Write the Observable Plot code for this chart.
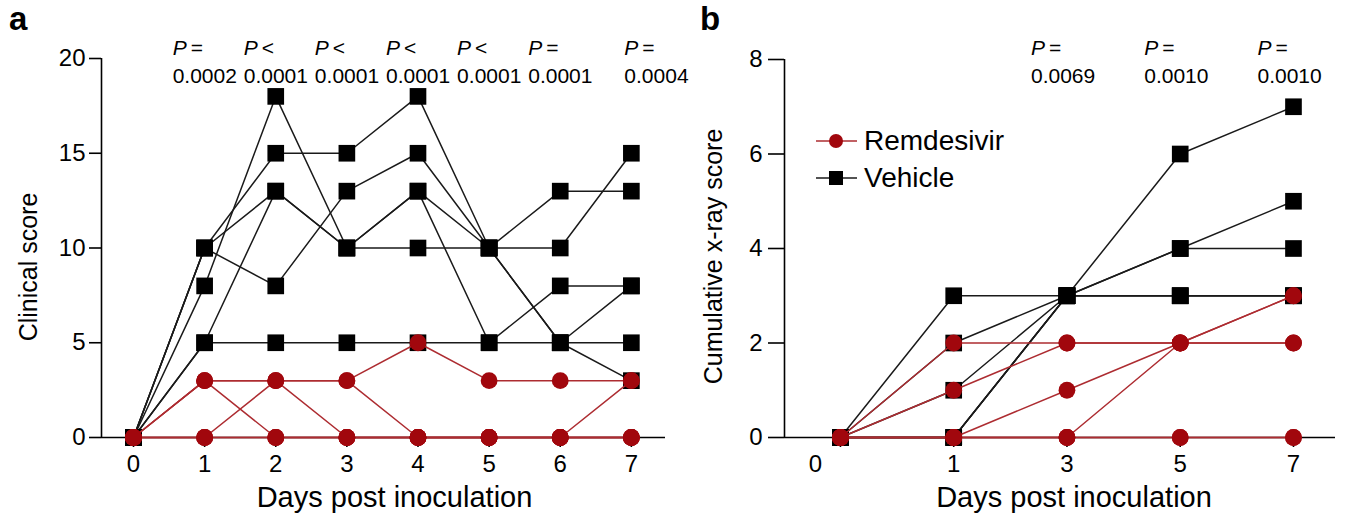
<!DOCTYPE html>
<html><head><meta charset="utf-8">
<script src="https://cdn.jsdelivr.net/npm/d3@7"></script>
<script src="https://cdn.jsdelivr.net/npm/@observablehq/plot@0.6"></script>
<style>
body{margin:0;background:#fff;font-family:"Liberation Sans",Arial,Helvetica,sans-serif;color:#000;}
#wrap{position:relative;width:1349px;height:529px;overflow:hidden;background:#fff;}
.panel{position:absolute;top:0;}
.tag{position:absolute;font-weight:bold;font-size:33px;line-height:1;}
.legend{position:absolute;left:815px;top:122px;font-size:28px;}
.legend .row{display:flex;align-items:center;height:37px;}
.legend svg{margin-right:6px;}
</style></head><body><div id="wrap"></div>
<script>
// ---------- Panel a: clinical score ----------
const daysA = [0, 1, 2, 3, 4, 5, 6, 7];
const vehicleA = [
  [0, 10, 15, 15, 18, 10, 13, 13],
  [0, 10, 8, 13, 15, 10, 10, 15],
  [0, 10, 13, 10, 13, 10, 5, 8],
  [0, 8, 18, 10, 13, 5, 8, 8],
  [0, 5, 13, 10, 10, 10, 5, 3],
  [0, 5, 5, 5, 5, 5, 5, 5]
];
const remdesivirA = [
  [0, 3, 3, 3, 5, 3, 3, 3],
  [0, 3, 3, 3, 0, 0, 0, 0],
  [0, 3, 0, 0, 0, 0, 0, 0],
  [0, 0, 3, 0, 0, 0, 0, 3],
  [0, 0, 0, 0, 0, 0, 0, 0],
  [0, 0, 0, 0, 0, 0, 0, 0]
];
const pDaysA = [1, 2, 3, 4, 5, 6, 7];
const pSignsA = ["=", "<", "<", "<", "<", "=", "="];
const pValuesA = ["0.0002", "0.0001", "0.0001", "0.0001", "0.0001", "0.0001", "0.0004"];
const yTicksA = [0, 5, 10, 15, 20];

// ---------- Panel b: cumulative x-ray score ----------
const daysB = [0, 1, 3, 5, 7];
const vehicleB = [
  [0, 3, 3, 3, 3],
  [0, 2, 3, 4, 5],
  [0, 1, 3, 4, 4],
  [0, 0, 3, 6, 7],
  [0, 0, 3, 3, 3],
  [0, 0, 3, 3, 3]
];
const remdesivirB = [
  [0, 2, 2, 2, 2],
  [0, 1, 2, 2, 3],
  [0, 0, 1, 2, 2],
  [0, 0, 0, 2, 3],
  [0, 0, 0, 0, 0],
  [0, 0, 0, 0, 0]
];
const pDaysB = [3, 5, 7];
const pSignsB = ["=", "=", "="];
const pValuesB = ["0.0069", "0.0010", "0.0010"];
const yTicksB = [0, 2, 4, 6, 8];
const groups = ["Remdesivir", "Vehicle"];

const RED = "#a1070d";
const REDLINE = "#ad2c31";
const BLACK = "#000";
const FONT = '"Liberation Sans", Arial, Helvetica, sans-serif';
const PFS = 21;

function tidy(arr, days, group, xOf) {
  return arr.flatMap((s, k) => s.map((v, i) => ({group, id: group + k, day: days[i], x: xOf(days[i], i), value: v})));
}

function pMarks(rows, dx, dyTop, dyBot) {
  return [
    Plot.text(rows, {x: "xp", text: () => "P", frameAnchor: "top", textAnchor: "start", fontStyle: "italic", dx, dy: dyTop, fontSize: PFS}),
    Plot.text(rows, {x: "xp", text: "sign", frameAnchor: "top", textAnchor: "start", dx: dx + 18, dy: dyTop, fontSize: PFS}),
    Plot.text(rows, {x: "xp", text: "val", frameAnchor: "top", textAnchor: "start", dx, dy: dyBot, fontSize: PFS})
  ];
}

const wrap = document.getElementById("wrap");

// ---- Panel a ----
const vA = tidy(vehicleA, daysA, "Vehicle", d => d);
const rA = tidy(remdesivirA, daysA, "Remdesivir", d => d);
const xDomA = [-0.45, 7.48];
const rowsA = pDaysA.map((d, i) => ({xp: d, sign: pSignsA[i], val: pValuesA[i]}));
const plotA = Plot.plot({
  width: 690, height: 529,
  marginLeft: 101, marginRight: 25, marginTop: 58, marginBottom: 92,
  style: {fontFamily: FONT, fontSize: "24px", color: "#000", background: "transparent", overflow: "visible"},
  x: {domain: xDomA},
  y: {domain: [0, 20]},
  marks: [
    Plot.ruleY([0], {stroke: BLACK, strokeWidth: 1.6}),
    Plot.ruleX([xDomA[0]], {y1: 0, y2: 20, stroke: BLACK, strokeWidth: 1.6}),
    Plot.axisX({ticks: daysA, tickSize: 10, tickPadding: 7, tickFormat: d => String(d), label: null, strokeWidth: 1.6}),
    Plot.axisY({ticks: yTicksA, tickSize: 12, tickPadding: 4, label: null, strokeWidth: 1.6}),
    Plot.line(vA, {x: "x", y: "value", z: "id", stroke: "#1a1a1a", strokeWidth: 1.5}),
    Plot.dot(vA, {x: "x", y: "value", symbol: "square", r: 9.4, fill: BLACK, stroke: "none"}),
    Plot.line(rA, {x: "x", y: "value", z: "id", stroke: REDLINE, strokeWidth: 1.5}),
    Plot.dot(rA, {x: "x", y: "value", symbol: "circle", r: 8.4, fill: RED, stroke: "none"}),
    Plot.text(["Days post inoculation"], {frameAnchor: "bottom", textAnchor: "middle", dx: 11, dy: 69, fontSize: 29}),
    Plot.text(["Clinical score"], {frameAnchor: "left", textAnchor: "middle", rotate: -90, dx: -73, dy: 19, fontSize: 25}),
    ...pMarks(rowsA.filter(r => r.xp < 7), -32, -18, 10),
    ...pMarks(rowsA.filter(r => r.xp === 7), -7, -18, 10)
  ]
});
plotA.classList.add("panel");
plotA.style.left = "0px";
wrap.appendChild(plotA);

// ---- Panel b ---- (days placed at evenly spaced positions)
const idxB = d => daysB.indexOf(d);
const vB = tidy(vehicleB, daysB, "Vehicle", (d, i) => i);
const rB = tidy(remdesivirB, daysB, "Remdesivir", (d, i) => i);
const xDomB = [-0.494, 4.371];
const rowsB = pDaysB.map((d, i) => ({xp: idxB(d), sign: pSignsB[i], val: pValuesB[i]}));
const plotB = Plot.plot({
  width: 659, height: 529,
  marginLeft: 94, marginRight: 14, marginTop: 59, marginBottom: 92,
  style: {fontFamily: FONT, fontSize: "24px", color: "#000", background: "transparent", overflow: "visible"},
  x: {domain: xDomB},
  y: {domain: [0, 8]},
  marks: [
    Plot.ruleY([0], {stroke: BLACK, strokeWidth: 1.6}),
    Plot.ruleX([xDomB[0]], {y1: 0, y2: 8, stroke: BLACK, strokeWidth: 1.6}),
    Plot.axisX({ticks: daysB.map((d, i) => i), tickSize: 10, tickPadding: 7, tickFormat: i => (i === 0 ? "" : String(daysB[i])), label: null, strokeWidth: 1.6}),
    Plot.text([0], {x: d => d, text: () => String(daysB[0]), frameAnchor: "bottom", lineAnchor: "top", dx: -25, dy: 17, fontSize: 24}),
    Plot.axisY({ticks: yTicksB, tickSize: 16, tickPadding: 6, label: null, strokeWidth: 1.6}),
    Plot.line(vB, {x: "x", y: "value", z: "id", stroke: "#1a1a1a", strokeWidth: 1.5}),
    Plot.dot(vB, {x: "x", y: "value", symbol: "square", r: 9.4, fill: BLACK, stroke: "none"}),
    Plot.line(rB, {x: "x", y: "value", z: "id", stroke: REDLINE, strokeWidth: 1.5}),
    Plot.dot(rB, {x: "x", y: "value", symbol: "circle", r: 8.4, fill: RED, stroke: "none"}),
    Plot.text(["Days post inoculation"], {frameAnchor: "bottom", textAnchor: "middle", dx: 14, dy: 69, fontSize: 29}),
    Plot.text(["Cumulative x-ray score"], {frameAnchor: "left", textAnchor: "middle", rotate: -90, dx: -71, dy: 8, fontSize: 25}),
    ...pMarks(rowsB, -36, -19, 9)
  ]
});
plotB.classList.add("panel");
plotB.style.left = "690px";
wrap.appendChild(plotB);

// ---- panel tags ----
for (const [t, left] of [["a", 9], ["b", 700]]) {
  const el = document.createElement("div");
  el.className = "tag";
  el.textContent = t;
  el.style.left = left + "px";
  el.style.top = "2px";
  wrap.appendChild(el);
}

// ---- legend ----
const leg = document.createElement("div");
leg.className = "legend";
const legendStyle = {Remdesivir: {color: RED, line: REDLINE, shape: "circle"}, Vehicle: {color: BLACK, line: "#1a1a1a", shape: "square"}};
for (const g of groups) {
  const s = legendStyle[g];
  const row = document.createElement("div");
  row.className = "row";
  const marker = s.shape === "circle"
    ? `<circle cx="21" cy="11" r="7" fill="${s.color}"/>`
    : `<rect x="14" y="4" width="14" height="14" fill="${s.color}"/>`;
  row.innerHTML = `<svg width="43" height="22"><line x1="1" y1="11" x2="42" y2="11" stroke="${s.line}" stroke-width="1.6"/>${marker}</svg><span>${g}</span>`;
  leg.appendChild(row);
}
wrap.appendChild(leg);
</script>
</body></html>
